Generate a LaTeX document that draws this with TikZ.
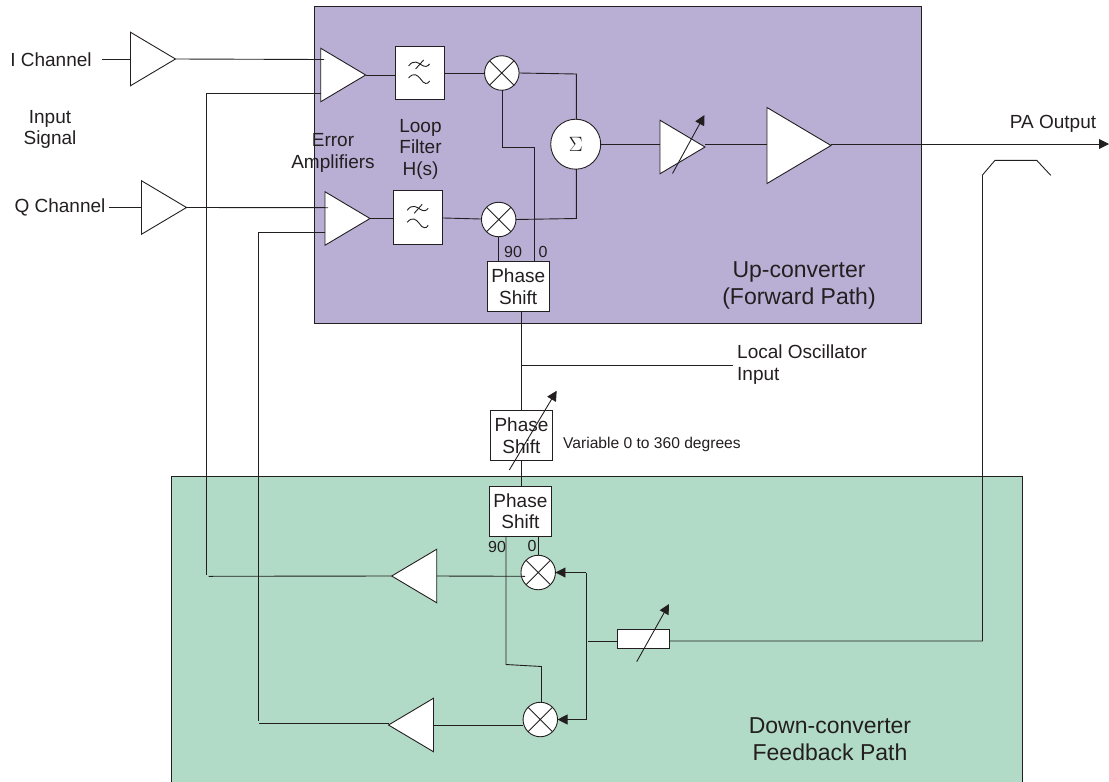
\documentclass[tikz,border=0pt]{standalone}
\usepackage{fontspec}
\setmainfont{Liberation Sans}
\usetikzlibrary{arrows.meta,shapes,positioning,calc}
\definecolor{softpurple}{RGB}{185,175,213}
\definecolor{softgreen}{RGB}{178,219,199}
\definecolor{inkgray}{RGB}{35,31,32}
\newcommand{\lpfmark}[1]{%
  \begin{scope}[shift={(#1.center)}]
  \draw[wire] (-11,-7) .. controls (-6,-14) and (-1,-10) .. (2,-8) .. controls (5,-6) and (8,-6) .. (10,-9);
  \draw[wire] (-4,-4) -- (4,-13);
  \draw[wire] (-11,5) .. controls (-6,-1) and (-2,2) .. (1,6) .. controls (4,11) and (8,12) .. (10,8);
  \end{scope}
}
\begin{document}
\begin{tikzpicture}[
            x=1pt, y=-1pt,
            every node/.style={text=inkgray, font=\fontsize{19}{21.5}\selectfont, align=center},
            wire/.style={draw=inkgray, line width=0.9pt},
            arrow/.style={wire, -{Triangle[length=10pt,width=10pt]}},
            blocknode/.style={rectangle, draw=inkgray, line width=1pt, outer sep=0pt},
            ampnode/.style={isosceles triangle, isosceles triangle stretches, draw=inkgray, line width=0.9pt, inner sep=0pt, outer sep=0pt, minimum height=45pt, minimum width=53.5pt, anchor=apex},
            filternode/.style={rectangle, draw=inkgray, line width=0.9pt, fill=white, inner sep=0pt, outer sep=0pt, minimum width=49pt, minimum height=53.5pt},
            shiftnode/.style={rectangle, draw=inkgray, line width=0.9pt, fill=white, inner sep=0pt, outer sep=0pt, minimum width=62.5pt, minimum height=50pt},
            mixernode/.style={circle, draw=inkgray, line width=0.9pt, fill=white, inner sep=0pt, outer sep=0pt, minimum size=34.5pt,
                path picture={\draw[wire] (path picture bounding box.north west) -- (path picture bounding box.south east) (path picture bounding box.north east) -- (path picture bounding box.south west);}}
        ]
            \useasboundingbox (0,0) rectangle (1109,782);
            % the two blocks
            \node[blocknode, fill=softpurple, minimum width=607pt, minimum height=317pt] (upblock) at (617.5,164.5) {};
            \node[blocknode, fill=softgreen, minimum width=851pt, minimum height=310pt] (downblock) at (596.5,631) {};

            % forward path
            \node[ampnode] (ampi) at (175.5,59) {};
            \node[ampnode] (ampq) at (186.5,207.5) {};
            \node[ampnode, fill=white] (errone) at (365.7,75) {};
            \node[ampnode, fill=white] (errtwo) at (370,218.5) {};
            \node[filternode] (lpfone) at (419.6,73) {};
            \node[filternode] (lpftwo) at (418.2,217.3) {};
            \node[mixernode] (mixone) at (501.8,73) {};
            \node[mixernode] (mixtwo) at (498.7,219.5) {};
            \node[circle, draw=inkgray, line width=0.9pt, fill=white, minimum size=50pt, inner sep=0pt, outer sep=0pt, font=\fontsize{21}{21}\selectfont] (sum) at (575.7,144.2) {$\Sigma$};
            \node[ampnode, fill=white] (vamp) at (705,147) {};
            \node[ampnode, fill=white, minimum height=64pt, minimum width=76pt] (pa) at (831,145.5) {};
            \node[shiftnode] (shiftup) at (518.2,286.7) {Phase\\Shift};

            % local oscillator branch
            \node[shiftnode] (shiftvar) at (521.5,435.7) {Phase\\Shift};
            \node[shiftnode] (shiftdown) at (520.4,511.3) {Phase\\Shift};

            % feedback path
            \node[mixernode] (mixthree) at (538.2,572.5) {};
            \node[mixernode] (mixfour) at (540.3,719.5) {};
            \node[ampnode, shape border rotate=180, fill=white] (ampthree) at (391.7,576) {};
            \node[ampnode, shape border rotate=180, fill=white] (ampfour) at (388.5,725) {};
            \node[rectangle, draw=inkgray, line width=0.9pt, fill=white, inner sep=0pt, outer sep=0pt, minimum width=52.5pt, minimum height=19pt] (atten) at (643.3,638.7) {};

            % labels
            \node (ilabel) at (51,59.5) {I Channel};
            \node (qlabel) at (60,207) {Q Channel};
            \node at (50,129.5) {Input\\Signal};
            \node at (333,153) {Error\\Amplifiers};
            \node at (420.5,149) {Loop\\Filter\\H(s)};
            \node[font=\fontsize{16}{16}\selectfont] at (513,252) {90};
            \node[font=\fontsize{16}{16}\selectfont] at (543,252) {0};
            \node at (1053,123.5) {PA Output};
            \node[font=\fontsize{23}{26.5}\selectfont] at (799,285.5) {Up-converter\\(Forward Path)};
            \node[font=\fontsize{19}{22}\selectfont, align=left, anchor=west, inner sep=0pt] at (737,365) {Local Oscillator\\Input};
            \node[font=\fontsize{15.6}{16}\selectfont, anchor=west, inner sep=0pt] at (563,444) {Variable 0 to 360 degrees};
            \node[font=\fontsize{16}{16}\selectfont] at (497,547) {90};
            \node[font=\fontsize{16}{16}\selectfont] at (532,546) {0};
            \node[font=\fontsize{23}{26.5}\selectfont] at (830,739) {Down-converter\\Feedback Path};

            % corners and free ends
            \coordinate (ione) at (324,59.5);
            \coordinate (fbone) at (320.5,93.3);
            \coordinate (qone) at (328,207.7);
            \coordinate (fbtwo) at (325,232.3);
            \coordinate (sumin) at (576.3,74);
            \coordinate (sumintwo) at (576.3,218.5);
            \coordinate (ocorner) at (521,365);
            \coordinate (oend) at (733,365);
            \coordinate (output) at (1109,144);
            \coordinate (busup) at (586,572.5);
            \coordinate (busdown) at (586,719.5);
            \coordinate (couplerfoot) at (982.5,641);

            % connectors
            \draw[wire] ([xshift=7pt]ilabel.east |- ampi.lower side) -- (ampi.lower side);
            \draw[wire] (qlabel.east |- ampq.lower side) -- (ampq.lower side);
            \draw[wire] (ampi.apex) -- (ione);
            \draw[wire] (ampq.apex) -- (qone);
            \draw[wire] (errone.apex) -- (errone.apex -| lpfone.west);
            \draw[wire] (errtwo.apex) -- (errtwo.apex -| lpftwo.west);
            \draw[wire] (lpfone) -- (mixone);
            \draw[wire] (lpftwo) -- (mixtwo);
            \draw[wire] (mixone.east) -- (sumin) -- (sum.north -| sumin);
            \draw[wire] (mixtwo.east) -- (sumintwo) -- (sum.south -| sumintwo);
            \draw[wire] (sum) -- (vamp.lower side |- sum);
            \draw[wire] (vamp.apex |- sum) -- (pa.lower side |- sum);
            \draw[arrow] (pa.apex |- output) -- (output);
            \draw[wire] ([xshift=1pt]mixone.south) -- ++(0,57) -| (534,261.7);
            \draw[wire] (mixtwo.south) -- (mixtwo.south |- shiftup.north);
            \draw[wire] (shiftup.south -| ocorner) -- (shiftvar.north -| ocorner);
            \draw[wire] (shiftvar.south -| ocorner) -- (shiftdown.north -| ocorner);
            \draw[wire] (ocorner) -- (oend);
            \draw[wire] (mixthree.north) -- (mixthree.north |- shiftdown.south);
            \draw[wire] (506,536.3) -- (506,664.5) -- (541.5,666.5) -- (mixfour.north -| 541.5,0);
            \draw[arrow] (busup) -- (mixthree.east);
            \draw[arrow] (busdown) -- (mixfour.east);
            \draw[wire] (busup) -- (busdown);
            \draw[wire] (587.5,641) -- (atten.west |- 0,641);
            \draw[wire] (atten.east |- 0,641) -- (couplerfoot) -- (982.5,175) -- (995,160.3) -- (1036.7,160.3) -- (1050.7,175.3);
            \draw[wire] (ampthree.lower side) -- (525,576.3);
            \draw[wire] (ampfour.lower side) -- (mixfour.west |- ampfour.lower side);
            \draw[wire] (ampthree.apex) -- (208.5,576.3);
            \draw[wire] (206.7,575) -- (206.7,93.3) -- (fbone);
            \draw[wire] (ampfour.apex |- 0,723.5) -- (258.5,723.5);
            \draw[wire] (258.5,721) -- (258.5,232.3) -- (fbtwo);

            % adjustable marks
            \draw[arrow] (672.5,173.5) -- (704.5,115);
            \draw[arrow] (509.3,470) -- (556.7,390.7);
            \draw[arrow] (636.7,661.7) -- (669,604);

            \lpfmark{lpfone}
            \lpfmark{lpftwo}
        \end{tikzpicture}
\end{document}
